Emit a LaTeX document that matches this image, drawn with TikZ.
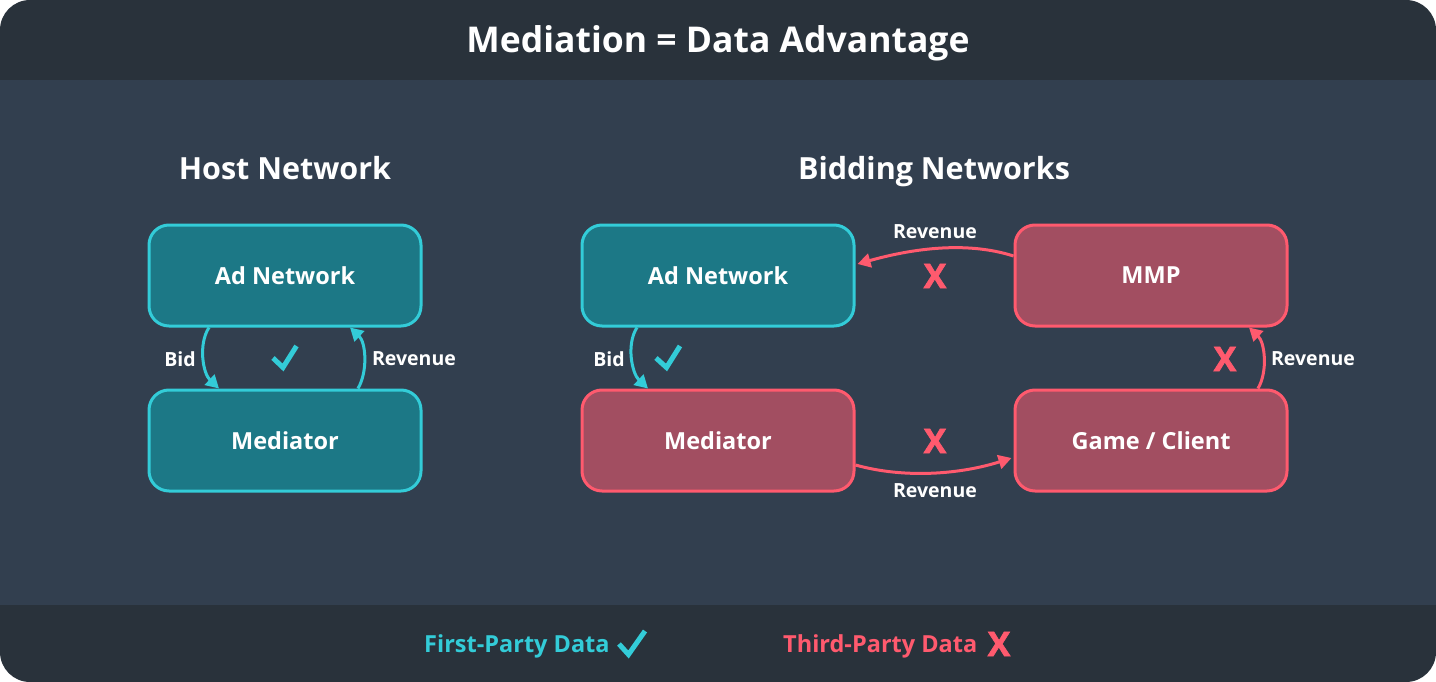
\documentclass[tikz,border=0pt]{standalone}
\usepackage{fontspec}
\setmainfont{Open Sans}
\newfontfamily\xfont{Open Sans}[BoldFeatures={FakeBold=2}]
\usetikzlibrary{arrows.meta,calc}
\definecolor{hdr}{HTML}{29323B}
\definecolor{bodybg}{HTML}{323F4F}
\definecolor{tealfill}{HTML}{1C7886}
\definecolor{cyanline}{HTML}{33CCD8}
\definecolor{redfill}{HTML}{A24E61}
\definecolor{redline}{HTML}{FF5A6E}
\tikzset{
  box/.style={rectangle, rounded corners=20pt, minimum width=272pt, minimum height=101pt,
    line width=3pt, text=white, font=\fontsize{23.5}{28}\selectfont\bfseries},
  tealbox/.style={box, draw=cyanline, fill=tealfill},
  redbox/.style={box, draw=redline, fill=redfill},
  cyarrow/.style={draw=cyanline, line width=3pt, -{Triangle[length=13pt,width=14pt]}},
  redarrow/.style={draw=redline, line width=3pt, -{Triangle[length=13pt,width=14pt]}},
  lbl/.style={text=white, font=\fontsize{19.5}{23}\selectfont\bfseries, inner sep=0pt},
  heading/.style={text=white, font=\fontsize{30.5}{36}\selectfont\bfseries, inner sep=0pt, anchor=base},
  xmark/.style={text=redline, font=\xfont\fontsize{34}{40}\selectfont\bfseries, inner sep=0pt},
  checkmark/.style={draw=cyanline, line width=5pt, line cap=butt, line join=miter},
  legend/.style={font=\fontsize{23.5}{28}\selectfont\bfseries, inner sep=0pt, anchor=base west},
}
\begin{document}
\begin{tikzpicture}[x=1pt,y=-1pt]
\useasboundingbox (0,0) rectangle (1436,682);
\fill[white] (0,0) rectangle (1436,682);
\begin{scope}
\clip[rounded corners=30pt] (0,0) rectangle (1436,682);
\fill[hdr] (0,0) rectangle (1436,80);
\fill[bodybg] (0,80) rectangle (1436,605);
\fill[hdr] (0,605) rectangle (1436,682);
\end{scope}

\node[text=white, font=\fontsize{35.5}{42}\selectfont\bfseries, inner sep=0pt, anchor=base] (title) at (718,53) {Mediation = Data Advantage};

\node[heading] (hosthead) at (285,180) {Host Network};
\node[heading] (bidhead) at (934,180) {Bidding Networks};

% host
\node[tealbox] (hAN) at (285,275.5) {Ad Network};
\node[tealbox] (hMed) at (285,440.5) {Mediator};
% bidding
\node[tealbox] (bAN) at (718,275.5) {Ad Network};
\node[redbox] (bMMP) at (1151,275.5) {MMP};
\node[redbox] (bMed) at (718,440.5) {Mediator};
\node[redbox] (bGame) at (1151,440.5) {Game / Client};

% host arrows
\draw[cyarrow] ([xshift=-76pt]hAN.south) .. controls +(-11,17) and +(-16,-15) .. ([xshift=-66pt]hMed.north);
\draw[cyarrow] ([xshift=73pt]hMed.north) .. controls +(10,-17) and +(16,15) .. ([xshift=65pt]hAN.south);
\node[lbl] (hbid) at (180,359) {Bid};
\node[lbl] (hrev) at (414,359) {Revenue};
\draw[checkmark] (273,358) -- (283,367.5) -- (296.5,346);

% bidding arrows
\draw[cyarrow] ([xshift=-81pt]bAN.south) .. controls +(-11,17) and +(-16,-15) .. ([xshift=-70pt]bMed.north);
\node[lbl] (bbid) at (609,359) {Bid};
\draw[checkmark] (656,358) -- (666.5,367.5) -- (680,346);

\draw[redarrow] ([yshift=19.5pt]bMMP.west) .. controls +(-50,-16) and +(50,-14) .. ([xshift=2pt,yshift=11.5pt]bAN.east);
\node[lbl] (rev1) at (935,232) {Revenue};
\node[xmark] (x1) at (935,276) {X};

\draw[redarrow] ([yshift=-24.5pt]bMed.east) .. controls +(50,14) and +(-50,16) .. ([xshift=-2pt,yshift=-17.5pt]bGame.west);
\node[lbl] (rev2) at (935,491) {Revenue};
\node[xmark] (x2) at (935,441) {X};

\draw[redarrow] ([xshift=107pt]bGame.north) .. controls +(10,-17) and +(16,15) .. ([xshift=98pt]bMMP.south);
\node[lbl] (rev3) at (1313,359) {Revenue};
\node[xmark] (x3) at (1225,359) {X};

% legend
\node[legend, text=cyanline] (first) at (424,652) {First-Party Data};
\draw[checkmark] (619,644) -- (628.5,654.5) -- (645,631);
\node[legend, text=redline] (third) at (783,652) {Third-Party Data};
\node[xmark] (x4) at (999,644) {X};
\end{tikzpicture}
\end{document}
